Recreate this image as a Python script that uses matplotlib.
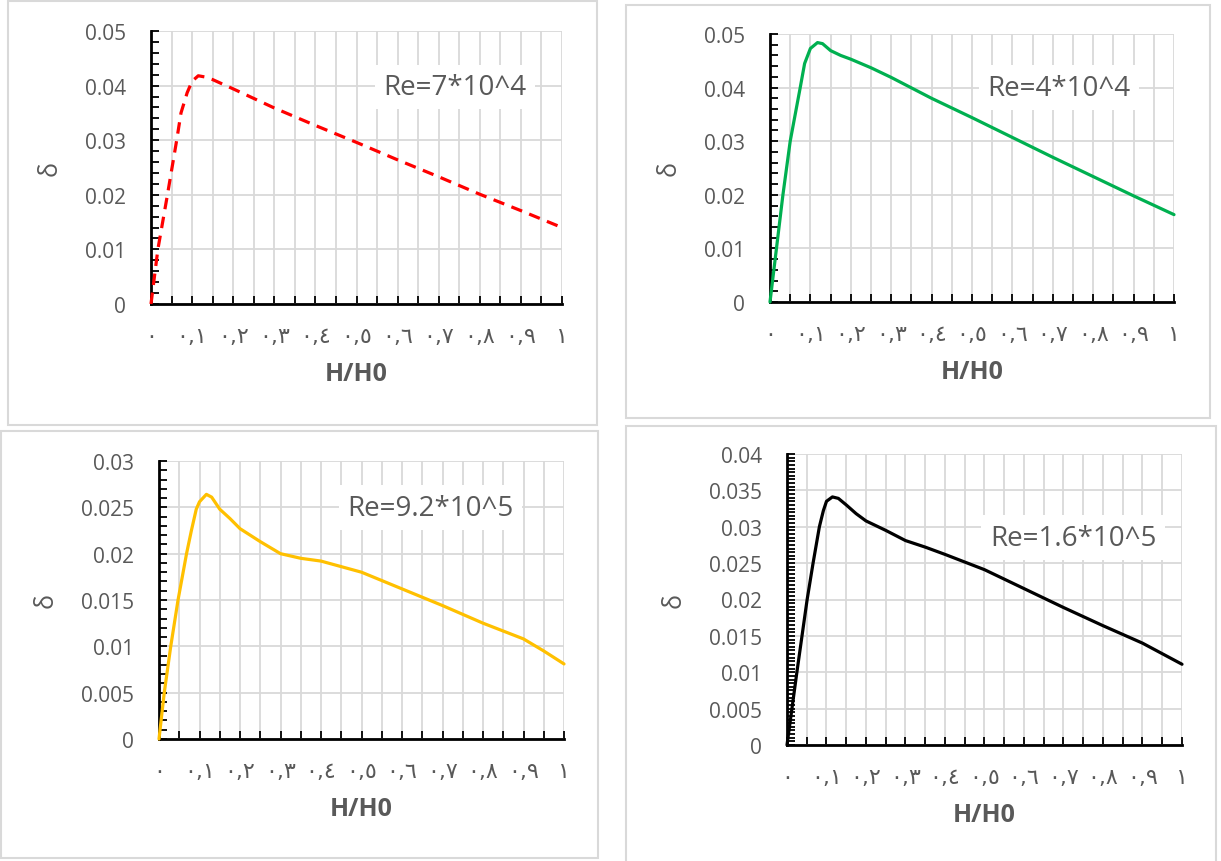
import numpy as np
import matplotlib
matplotlib.use("Agg")
import matplotlib.pyplot as plt
from matplotlib.patches import Rectangle
from matplotlib.ticker import MultipleLocator, FixedLocator

# ---- data ----
x_re7e4 = [0, 0.0167, 0.04, 0.0625, 0.073, 0.088, 0.1, 0.115, 0.13, 0.15, 0.2, 0.3, 0.4, 0.5, 0.6, 0.7, 0.8, 0.9, 1.0]
y_re7e4 = [0, 0.010, 0.020, 0.030, 0.035, 0.0387, 0.0408, 0.0418, 0.0416, 0.0411, 0.0394, 0.0359, 0.0327, 0.0296, 0.0264, 0.0233, 0.0201, 0.0171, 0.0140]

x_re4e4 = [0, 0.016, 0.032, 0.050, 0.0748, 0.0857, 0.1, 0.1176, 0.13, 0.15, 0.175, 0.2, 0.25, 0.3, 0.4, 0.5, 0.6, 0.7, 0.8, 0.9, 1.0]
y_re4e4 = [0, 0.010, 0.020, 0.030, 0.040, 0.0445, 0.0473, 0.0484, 0.0482, 0.0469, 0.0460, 0.0453, 0.0437, 0.0419, 0.0380, 0.0344, 0.0307, 0.0270, 0.0234, 0.0198, 0.0163]

x_re92e5 = [0, 0.013, 0.029, 0.047, 0.068, 0.08, 0.092, 0.1, 0.117, 0.13, 0.15, 0.175, 0.2, 0.25, 0.3, 0.35, 0.4, 0.45, 0.5, 0.6, 0.7, 0.8, 0.9, 0.95, 1.0]
y_re92e5 = [0, 0.005, 0.010, 0.015, 0.020, 0.0225, 0.0248, 0.0256, 0.0264, 0.0261, 0.0248, 0.0238, 0.0227, 0.0213, 0.0200, 0.0195, 0.0192, 0.0186, 0.0180, 0.0162, 0.0144, 0.0125, 0.0108, 0.0095, 0.0081]

x_re16e5 = [0, 0.0125, 0.025, 0.038, 0.051, 0.066, 0.082, 0.092, 0.1, 0.115, 0.13, 0.15, 0.175, 0.2, 0.25, 0.3, 0.35, 0.4, 0.5, 0.6, 0.7, 0.8, 0.9, 1.0]
y_re16e5 = [0, 0.005, 0.010, 0.015, 0.020, 0.025, 0.030, 0.0322, 0.0335, 0.0341, 0.0339, 0.0330, 0.0318, 0.0308, 0.0295, 0.0281, 0.0272, 0.0262, 0.0241, 0.0215, 0.0189, 0.0164, 0.0140, 0.0111]

x_ticks = [0, 0.1, 0.2, 0.3, 0.4, 0.5, 0.6, 0.7, 0.8, 0.9, 1.0]
x_labels = ['٠', '٠,١', '٠,٢', '٠,٣', '٠,٤', '٠,٥', '٠,٦', '٠,٧', '٠,٨', '٠,٩', '١']

y_ticks_05 = [0, 0.01, 0.02, 0.03, 0.04, 0.05]
y_labels_05 = ['0', '0.01', '0.02', '0.03', '0.04', '0.05']
y_ticks_03 = [0, 0.005, 0.01, 0.015, 0.02, 0.025, 0.03]
y_labels_03 = ['0', '0.005', '0.01', '0.015', '0.02', '0.025', '0.03']
y_ticks_04 = [0, 0.005, 0.01, 0.015, 0.02, 0.025, 0.03, 0.035, 0.04]
y_labels_04 = ['0', '0.005', '0.01', '0.015', '0.02', '0.025', '0.03', '0.035', '0.04']

W, H = 1221, 862
GRAY = '#595959'
GRID = '#d9d9d9'
FONT = ['Open Sans', 'DejaVu Sans']

fig = plt.figure(figsize=(W / 100, H / 100), dpi=100)
fig.patch.set_facecolor('white')


def frame(x0, y0, x1, y1):
    """Light grey chart-area border, pixel coords from top-left."""
    fig.patches.append(Rectangle((x0 / W, 1 - y1 / H), (x1 - x0) / W, (y1 - y0) / H,
                                 transform=fig.transFigure, fill=False,
                                 edgecolor=GRID, linewidth=1.5))


def panel(px, x, y, color, ls, yticks, ylabels, yminor, label, lab_xy):
    left, right, top, bottom = px
    ax = fig.add_axes([left / W, 1 - bottom / H, (right - left) / W, (bottom - top) / H])
    ax.plot(x, y, color=color, linestyle=ls, linewidth=2.3, zorder=3, clip_on=False,
            solid_capstyle='round', solid_joinstyle='round')
    ax.set_xlim(0, 1)
    ax.set_ylim(yticks[0], yticks[-1])

    ax.xaxis.set_major_locator(FixedLocator(x_ticks))
    ax.xaxis.set_minor_locator(MultipleLocator(0.05))
    ax.set_xticklabels(x_labels, family=['DejaVu Sans', 'Noto Sans'], fontsize=16, color=GRAY)
    ax.yaxis.set_major_locator(FixedLocator(yticks))
    ax.yaxis.set_minor_locator(MultipleLocator(yminor))
    ax.set_yticklabels(ylabels, family=FONT, fontsize=15, color=GRAY)

    ax.tick_params(axis='both', which='both', direction='in', length=6, width=1.3, color='black')
    ax.tick_params(axis='x', which='major', pad=16)
    ax.tick_params(axis='y', which='major', pad=18)

    ax.grid(True, axis='x', which='both', color=GRID, linewidth=1.3, zorder=0)
    ax.grid(True, axis='y', which='major', color=GRID, linewidth=1.3, zorder=0)
    ax.set_axisbelow(True)
    for s in ['top', 'right']:
        ax.spines[s].set_visible(False)
    for s in ['left', 'bottom']:
        ax.spines[s].set_color('black')
        ax.spines[s].set_linewidth(2)

    ax.set_xlabel('H/H0', family=FONT, fontsize=18, fontweight='bold', color=GRAY, labelpad=11)
    ax.set_ylabel('δ', family=FONT, fontsize=18, color=GRAY, labelpad=16)

    ax.text(lab_xy[0], lab_xy[1], label, transform=ax.transAxes, ha='center', va='center',
            family=FONT, fontsize=20, color=GRAY, zorder=2,
            bbox=dict(boxstyle='square,pad=0.3', facecolor='white', edgecolor='none'))
    return ax


# chart borders
frame(8, 2, 597, 426)
frame(626, 6, 1210, 419)
frame(1, 432, 598, 859)
frame(626, 427, 1216, 870)

panel((151, 562, 32, 305), x_re7e4, y_re7e4, '#ff0000', (0, (3.6, 2.4)),
      y_ticks_05, y_labels_05, 0.002, 'Re=7*10^4', (0.74, 0.795))
panel((770, 1174, 35, 303), x_re4e4, y_re4e4, '#00b050', '-',
      y_ticks_05, y_labels_05, 0.002, 'Re=4*10^4', (0.716, 0.80))
panel((159, 564, 462, 740), x_re92e5, y_re92e5, '#ffc000', '-',
      y_ticks_03, y_labels_03, 0.001, 'Re=9.2*10^5', (0.67, 0.832))
panel((787, 1182, 455, 746), x_re16e5, y_re16e5, '#000000', '-',
      y_ticks_04, y_labels_04, 0.0005, 'Re=1.6*10^5', (0.724, 0.713))

fig.savefig('out.png', dpi=100, facecolor='white')
